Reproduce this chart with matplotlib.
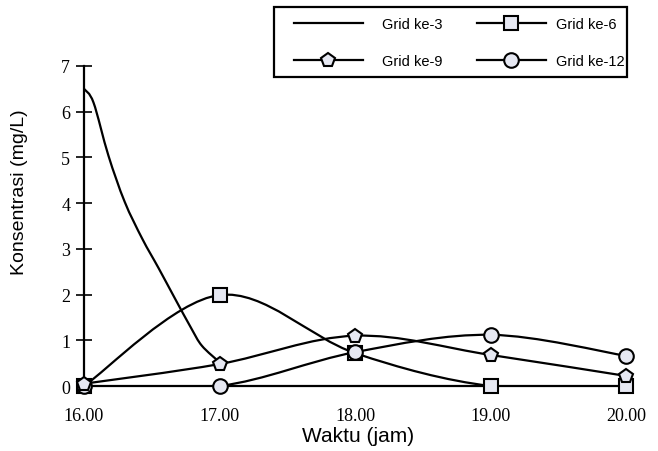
import matplotlib.pyplot as plt
import numpy as np
from matplotlib.path import Path
from matplotlib.patches import PathPatch, Rectangle
from matplotlib.lines import Line2D

# jam (16.00 .. 20.00)
waktu = [16, 17, 18, 19, 20]
x_labels = ["16.00", "17.00", "18.00", "19.00", "20.00"]

# Grid ke-3 (it drops from 6.5 to ~0.5 before 17.00)
t_ke3 = [16.0, 16.07, 16.18, 16.30, 16.43, 16.55, 16.67, 16.79, 16.87, 17.0]
ke3 = [6.5, 6.2, 5.04, 4.03, 3.22, 2.58, 1.92, 1.27, 0.88, 0.52]
ke6 = [0.0, 1.99, 0.72, 0.0, 0.0]
ke9 = [0.05, 0.48, 1.1, 0.68, 0.22]
ke12 = [0.0, 0.0, 0.74, 1.12, 0.66]

FILL = '#e6e8f2'


def smooth_path(xs, ys):
    # catmull-rom -> bezier, like excel's smoothed line
    pts = np.column_stack([np.asarray(xs, float), np.asarray(ys, float)])
    n = len(pts)
    verts = [pts[0]]
    codes = [Path.MOVETO]
    for i in range(n - 1):
        p0 = pts[max(i - 1, 0)]
        p1 = pts[i]
        p2 = pts[i + 1]
        p3 = pts[min(i + 2, n - 1)]
        verts += [p1 + (p2 - p0) / 6.0, p2 - (p3 - p1) / 6.0, p2]
        codes += [Path.CURVE4] * 3
    return Path(verts, codes)


fig = plt.figure(figsize=(6.58, 4.52), dpi=100)
ax = fig.add_axes([0.1277, 0.1438, 0.9514 - 0.1277, 0.8518 - 0.1438])

lw = 1.6
for xs, ys in [(t_ke3, ke3), (waktu, ke6), (waktu, ke9), (waktu, ke12)]:
    ax.add_patch(PathPatch(smooth_path(xs, ys), fill=False, lw=lw,
                           edgecolor='black', zorder=3))

mk = dict(linestyle='none', markerfacecolor=FILL, markeredgecolor='black',
          markeredgewidth=1.5, clip_on=False, zorder=4)
ax.plot(waktu, ke6, marker='s', markersize=10.5, **mk)
ax.plot(waktu, ke12, marker='o', markersize=10.5, **mk)
ax.plot(waktu, ke9, marker='p', markersize=10.5, **mk)

ax.set_xlim(16, 20)
ax.set_ylim(0, 7)
ax.set_xticks(waktu)
ax.set_xticklabels(x_labels)
ax.set_yticks(range(0, 8))
for lab in ax.get_xticklabels() + ax.get_yticklabels():
    lab.set_family('Liberation Serif')
    lab.set_fontsize(13)
ax.tick_params(axis='x', length=0, pad=15)
ax.tick_params(axis='y', direction='inout', length=12, width=1.2, pad=4)

ax.spines['top'].set_visible(False)
ax.spines['right'].set_visible(False)
ax.spines['left'].set_linewidth(1.6)
ax.spines['bottom'].set_linewidth(1.6)

ax.set_xlabel("Waktu (jam)", fontsize=15, family='Liberation Sans', va='center')
ax.xaxis.set_label_coords(0.505, -0.156)
ax.set_ylabel("Konsentrasi (mg/L)", fontsize=14, family='Liberation Sans', va='center')
ax.yaxis.set_label_coords(-0.119, 0.61)

hk = dict(markersize=10.5, markerfacecolor=FILL, markeredgecolor='black',
          markeredgewidth=1.5)
leg_opts = dict(loc='upper left', prop={'family': 'Liberation Sans', 'size': 10.5},
                frameon=False, handlelength=4.7, labelspacing=1.6,
                borderpad=0, borderaxespad=0)

# left column of the legend
leg1 = fig.legend([Line2D([], [], color='black', lw=lw),
                   Line2D([], [], color='black', lw=lw, marker='p', **hk)],
                  ["Grid ke-3", "Grid ke-9"],
                  bbox_to_anchor=(294 / 658, 1 - 18 / 452),
                  handletextpad=1.3, **leg_opts)
# right column
leg2 = fig.legend([Line2D([], [], color='black', lw=lw, marker='s', **hk),
                   Line2D([], [], color='black', lw=lw, marker='o', **hk)],
                  ["Grid ke-6", "Grid ke-12"],
                  bbox_to_anchor=(477 / 658, 1 - 18 / 452),
                  handletextpad=0.7, **leg_opts)

# legend box
fig.patches.append(Rectangle((274 / 658, 1 - 78 / 452), 353 / 658, 70 / 452,
                             transform=fig.transFigure, fill=False,
                             edgecolor='black', lw=1.6))

fig.savefig('out.png', dpi=100)
